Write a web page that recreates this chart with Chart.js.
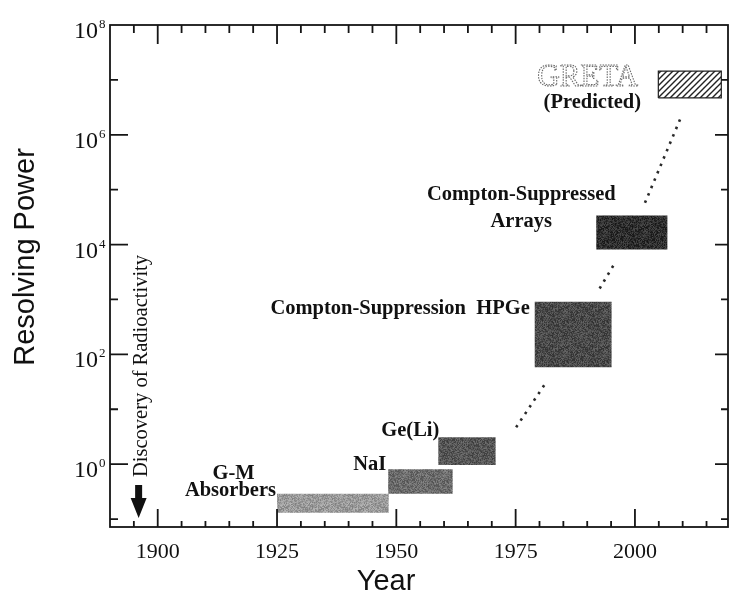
<!DOCTYPE html>
<html>
<head>
<meta charset="utf-8">
<title>Resolving Power</title>
<script src="https://cdn.jsdelivr.net/npm/chart.js@4.4.1/dist/chart.umd.min.js"></script>
<style>
  body { margin: 0; background: #fff; }
  #wrap { width: 730px; height: 593px; }
</style>
</head>
<body>
<div id="wrap"><canvas id="powerChart" width="730" height="593"></canvas></div>
<script>
// Detector generations: years in use and range of resolving power
const detectors = ["G-M Absorbers", "NaI", "Ge(Li)", "Compton-Suppression HPGe", "Compton-Suppressed Arrays", "GRETA (Predicted)"];
const startYear = [1925, 1948.3, 1958.8, 1979.0, 1991.9, 2004.9];
const endYear   = [1948.4, 1961.8, 1970.8, 1995.1, 2006.8, 2018.1];
const lowPower  = [0.13, 0.29, 0.96, 58, 8100, 4.7e6];
const highPower = [0.29, 0.81, 3.1, 910, 34000, 1.45e7];

// dotted trend between generations (null breaks the line)
const trendYears = [1975.1, 1981.0, 1987, 1992.6, 1995.7, 1999, 2002.1, 2009.5];
const trendPower = [4.7, 27.5, null, 1585, 4470, null, 57500, 1.95e6];

const discoveryYear = 1896;
const yearTicks = [1900, 1925, 1950, 1975, 2000];
const powerTicks = [0, 2, 4, 6, 8]; // exponents of ten

const boxShades = ["#9a9a9a", "#6c6c6c", "#565656", "#4a4a4a", "#2f2f2f"];
const serif = '"Liberation Serif", "DejaVu Serif", serif';
const sans = '"Liberation Sans", Arial, sans-serif';

// grainy grey fill for the boxes
function speckle(hex) {
  const c = document.createElement("canvas");
  c.width = c.height = 40;
  const g = c.getContext("2d");
  const img = g.createImageData(40, 40);
  const base = parseInt(hex.slice(1, 3), 16);
  for (let i = 0; i < 1600; i++) {
    const n = Math.sin(i * 12.9898 + (i % 40) * 78.233) * 43758.5453;
    const v = base + ((n - Math.floor(n)) - 0.5) * 55;
    img.data[i * 4] = img.data[i * 4 + 1] = img.data[i * 4 + 2] = v;
    img.data[i * 4 + 3] = 255;
  }
  g.putImageData(img, 0, 0);
  return g.createPattern(c, "repeat");
}

// diagonal hatching for the predicted box
function hatch() {
  const c = document.createElement("canvas");
  c.width = c.height = 6;
  const g = c.getContext("2d");
  g.fillStyle = "#fff";
  g.fillRect(0, 0, 6, 6);
  g.strokeStyle = "#222";
  g.lineWidth = 1.4;
  g.beginPath();
  g.moveTo(0, 6); g.lineTo(6, 0);
  g.moveTo(-1, 1); g.lineTo(1, -1);
  g.moveTo(5, 7); g.lineTo(7, 5);
  g.stroke();
  return g.createPattern(c, "repeat");
}

const boxSets = detectors.map((name, i) => ({
  label: name,
  data: [
    { x: startYear[i], y: lowPower[i] },
    { x: endYear[i], y: lowPower[i] },
    { x: endYear[i], y: highPower[i] },
    { x: startYear[i], y: highPower[i] },
    { x: startYear[i], y: lowPower[i] }
  ],
  fill: "shape",
  backgroundColor: i < 5 ? speckle(boxShades[i]) : hatch(),
  borderColor: i < 5 ? "rgba(0,0,0,0)" : "#222",
  borderWidth: i < 5 ? 0 : 1.2,
  pointRadius: 0,
  tension: 0
}));

const trendSet = {
  label: "trend",
  data: trendYears.map((yr, i) => ({ x: yr, y: trendPower[i] })),
  borderColor: "#2a2a2a",
  borderWidth: 2.6,
  borderDash: [2.5, 5.5],
  pointRadius: 0,
  fill: false,
  spanGaps: false
};

// frame, inward ticks, tick labels and all annotations
const frame = {
  id: "frame",
  afterDatasetsDraw(chart) {
    const { ctx, chartArea: a, scales: { x, y } } = chart;
    ctx.save();
    ctx.strokeStyle = "#151515";
    ctx.fillStyle = "#111";
    ctx.lineWidth = 1.8;
    ctx.strokeRect(a.left, a.top, a.right - a.left, a.bottom - a.top);

    ctx.beginPath();
    for (let yr = 1895; yr <= 2015; yr += 5) {
      const px = x.getPixelForValue(yr);
      const major = yr % 25 === 0;
      ctx.moveTo(px, a.bottom); ctx.lineTo(px, a.bottom - (major ? 18 : 6));
      ctx.moveTo(px, a.top); ctx.lineTo(px, a.top + (major ? 19 : 8));
    }
    for (let e = -1; e <= 7; e++) {
      const py = y.getPixelForValue(10 ** e);
      const major = e % 2 === 0;
      ctx.moveTo(a.left, py); ctx.lineTo(a.left + (major ? 18 : 8), py);
      ctx.moveTo(a.right, py); ctx.lineTo(a.right - (major ? 13 : 7), py);
    }
    ctx.stroke();

    // tick labels
    ctx.font = "22px " + serif;
    ctx.textAlign = "center";
    yearTicks.forEach(yr => ctx.fillText(String(yr), x.getPixelForValue(yr), a.bottom + 31));
    powerTicks.forEach(e => {
      const py = y.getPixelForValue(10 ** e);
      ctx.textAlign = "right";
      ctx.font = "24px " + serif;
      ctx.fillText("10", a.left - 12, py + 13);
      ctx.textAlign = "left";
      ctx.font = "13px " + serif;
      ctx.fillText(String(e), a.left - 11, py + 3);
    });

    // axis titles
    ctx.font = "29px " + sans;
    ctx.textAlign = "center";
    ctx.fillText("Year", 386, 590);
    ctx.save();
    ctx.translate(34, 257);
    ctx.rotate(-Math.PI / 2);
    ctx.fillText("Resolving Power", 0, 0);
    ctx.restore();

    // discovery marker
    const dx = x.getPixelForValue(discoveryYear);
    ctx.save();
    ctx.translate(dx + 8, 477);
    ctx.rotate(-Math.PI / 2);
    ctx.font = "20.5px " + serif;
    ctx.textAlign = "left";
    ctx.fillText("Discovery of Radioactivity", 0, 0);
    ctx.restore();
    ctx.beginPath();
    ctx.moveTo(dx - 3.5, 485); ctx.lineTo(dx + 3.5, 485);
    ctx.lineTo(dx + 3.5, 498); ctx.lineTo(dx + 8, 498);
    ctx.lineTo(dx, a.bottom - 9); ctx.lineTo(dx - 8, 498);
    ctx.lineTo(dx - 3.5, 498); ctx.closePath();
    ctx.fill();

    // box labels
    const top = i => y.getPixelForValue(highPower[i]);
    const left = i => x.getPixelForValue(startYear[i]);
    ctx.font = "bold 20.5px " + serif;
    ctx.textAlign = "center";
    ctx.fillText("G-M", x.getPixelForValue(1915.9), top(0) - 15);
    ctx.textAlign = "right";
    ctx.fillText("Absorbers", left(0) - 1, top(0) + 2);
    ctx.fillText("NaI", left(1) - 2, top(1) + 1);
    ctx.fillText("Ge(Li)", left(2) + 1, top(2) - 1);
    ctx.fillText("Compton-Suppression  HPGe", left(3) - 5, top(3) + 12);
    ctx.textAlign = "center";
    ctx.fillText("Compton-Suppressed", left(4) - 75, top(4) - 15);
    ctx.fillText("Arrays", left(4) - 75, top(4) + 12);
    ctx.fillText("(Predicted)", left(5) - 66, top(5) + 37);

    // outlined GRETA lettering
    ctx.font = "31px " + serif;
    ctx.textAlign = "left";
    ctx.lineWidth = 1.1;
    ctx.strokeStyle = "#6a6a6a";
    ctx.setLineDash([1.5, 1.2]);
    ctx.strokeText("GRETA", left(5) - 121, top(5) + 15);
    ctx.restore();
  }
};

const ctx = document.getElementById("powerChart").getContext("2d");
const powerChart = new Chart(ctx, {
  type: "line",
  data: { datasets: [...boxSets, trendSet] },
  options: {
    responsive: false,
    animation: false,
    devicePixelRatio: 1,
    layout: { padding: { left: 110, right: 2, top: 25, bottom: 66 } },
    scales: {
      x: { type: "linear", min: 1890, max: 2019.5, display: false },
      y: { type: "logarithmic", min: 0.0716, max: 1e8, display: false }
    },
    plugins: {
      legend: { display: false },
      tooltip: { enabled: false }
    }
  },
  plugins: [frame]
});
</script>
</body>
</html>
